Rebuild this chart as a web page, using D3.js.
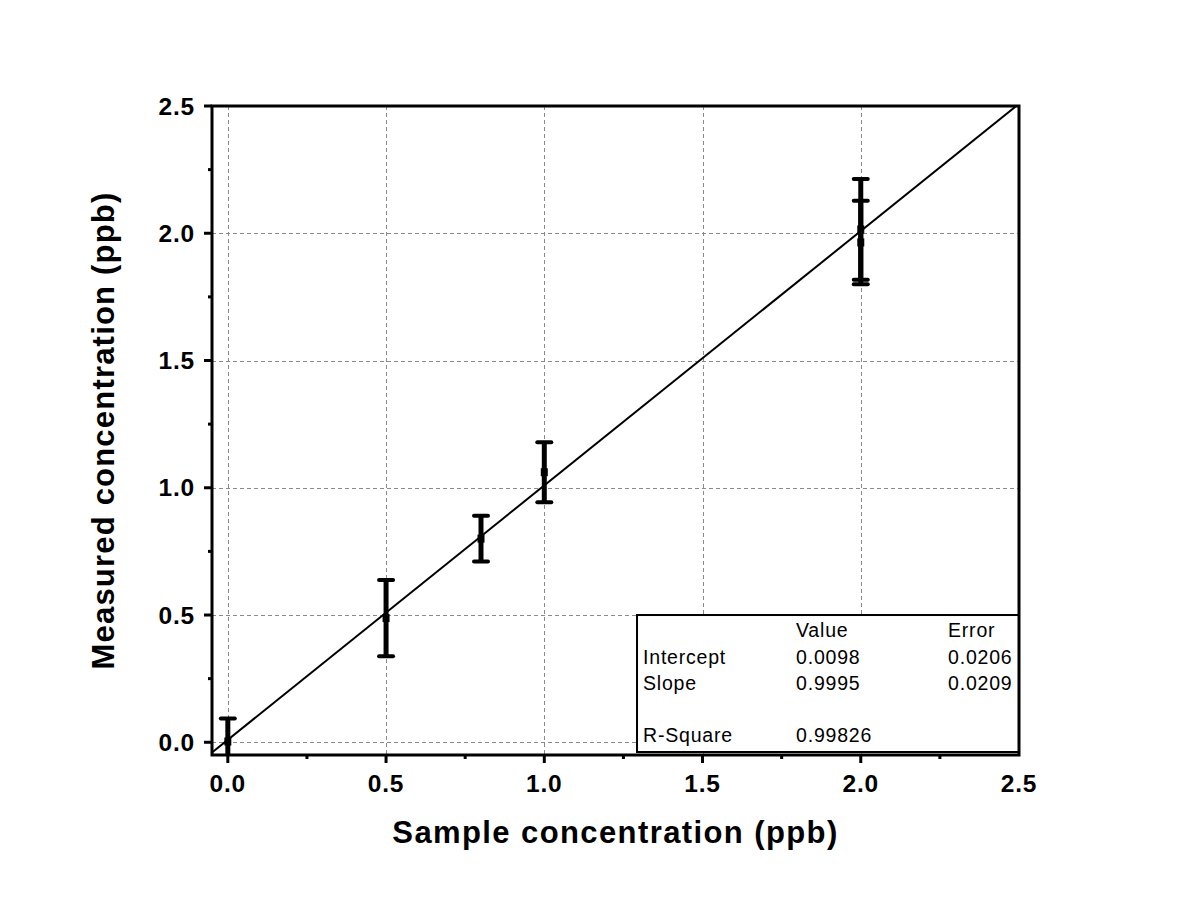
<!DOCTYPE html>
<html>
<head>
<meta charset="utf-8">
<script src="https://cdn.jsdelivr.net/npm/d3@7"></script>
<style>
  body { margin: 0; background: #fff; }
  svg { display: block; }
</style>
</head>
<body>
<div id="chart"></div>
<script>
// Data
const sampleConc = [0, 0.5, 0.8, 1.0, 2.0, 2.0];
const measuredConc = [0.003, 0.488, 0.80, 1.061, 2.015, 1.964];
const measuredErr = [0.09, 0.15, 0.09, 0.118, 0.198, 0.164];

const fitIntercept = 0.0098, fitSlope = 0.9995;
const majorTicks = [0, 0.5, 1.0, 1.5, 2.0, 2.5];
const minorTicks = [0.25, 0.75, 1.25, 1.75, 2.25];

const tableHeader = ["", "Value", "Error"];
const tableRows = [
  ["Intercept", "0.0098", "0.0206"],
  ["Slope", "0.9995", "0.0209"],
  ["", "", ""],
  ["R-Square", "0.99826", ""]
];

const width = 1183, height = 905;
const margin = {left: 212, right: 164, top: 106, bottom: 150};
const font = "'Liberation Sans', Arial, sans-serif";

const svg = d3.select("#chart").append("svg")
    .attr("width", width)
    .attr("height", height);

const x = d3.scaleLinear().domain([-0.05, 2.5]).range([margin.left, width - margin.right]);
const y = d3.scaleLinear().domain([-0.05, 2.5]).range([height - margin.bottom, margin.top]);

const x0 = x.range()[0], x1 = x.range()[1];
const yb = y.range()[0], yt = y.range()[1];

svg.append("defs").append("clipPath").attr("id", "plotclip")
  .append("rect").attr("x", x0).attr("y", yt).attr("width", x1 - x0).attr("height", yb - yt);

// Grid lines
const grid = svg.append("g").attr("stroke", "#8a8a8a").attr("stroke-width", 1).attr("stroke-dasharray", "4,3");
grid.selectAll(".gx").data(majorTicks.filter(d => d < 2.5)).enter().append("line")
    .attr("x1", d => Math.round(x(d)) + 0.5).attr("x2", d => Math.round(x(d)) + 0.5)
    .attr("y1", yt).attr("y2", yb);
grid.selectAll(".gy").data(majorTicks.filter(d => d < 2.5)).enter().append("line")
    .attr("y1", d => Math.round(y(d)) + 0.5).attr("y2", d => Math.round(y(d)) + 0.5)
    .attr("x1", x0).attr("x2", x1);

// Fit line
const plot = svg.append("g").attr("clip-path", "url(#plotclip)");
plot.append("line")
    .attr("x1", x(-0.05)).attr("y1", y(fitIntercept + fitSlope * -0.05))
    .attr("x2", x(2.5)).attr("y2", y(fitIntercept + fitSlope * 2.5))
    .attr("stroke", "#000").attr("stroke-width", 2);

// Error bars
const pts = sampleConc.map((d, i) => ({x: d, y: measuredConc[i], e: measuredErr[i]}));
const bars = plot.selectAll(".eb").data(pts).enter().append("g");
bars.append("line")
    .attr("x1", d => x(d.x)).attr("x2", d => x(d.x))
    .attr("y1", d => y(d.y - d.e)).attr("y2", d => y(d.y + d.e))
    .attr("stroke", "#000").attr("stroke-width", 5);
[-1, 1].forEach(s => {
  bars.append("line")
      .attr("x1", d => x(d.x) - 7).attr("x2", d => x(d.x) + 7)
      .attr("y1", d => y(d.y + s * d.e)).attr("y2", d => y(d.y + s * d.e))
      .attr("stroke", "#000").attr("stroke-width", 4).attr("stroke-linecap", "round");
});
bars.append("rect")
    .attr("x", d => x(d.x) - 3.5).attr("y", d => y(d.y) - 4)
    .attr("width", 7).attr("height", 8).attr("fill", "#000");

// Fit result table
const tbl = svg.append("g");
const tLeft = x(1.293), tTop = y(0.5);
tbl.append("rect")
    .attr("x", tLeft).attr("y", tTop)
    .attr("width", x1 - tLeft).attr("height", yb - 3 - tTop)
    .attr("fill", "#fff").attr("stroke", "#000").attr("stroke-width", 2);
const colX = [tLeft + 6, tLeft + 159, tLeft + 311];
const rowY = [tTop + 22, tTop + 49, tTop + 75, tTop + 101, tTop + 127];
[tableHeader].concat(tableRows).forEach((row, r) => {
  row.forEach((txt, c) => {
    if (!txt) return;
    tbl.append("text").attr("x", colX[c]).attr("y", rowY[r])
        .attr("font-family", font).attr("font-size", 19.5).attr("letter-spacing", 0.8).attr("fill", "#000")
        .text(txt);
  });
});

// Frame
svg.append("rect")
    .attr("x", x0).attr("y", yt).attr("width", x1 - x0).attr("height", yb - yt)
    .attr("fill", "none").attr("stroke", "#000").attr("stroke-width", 3);

// Ticks
const ax = svg.append("g").attr("stroke", "#000").attr("stroke-width", 3);
ax.selectAll(".mx").data(majorTicks.filter(d => d < 2.5)).enter().append("line")
    .attr("x1", d => x(d)).attr("x2", d => x(d)).attr("y1", yb).attr("y2", yb + 8);
ax.selectAll(".nx").data(minorTicks).enter().append("line")
    .attr("x1", d => x(d)).attr("x2", d => x(d)).attr("y1", yb).attr("y2", yb + 4);
ax.selectAll(".my").data(majorTicks).enter().append("line")
    .attr("y1", d => y(d)).attr("y2", d => y(d)).attr("x1", x0).attr("x2", x0 - 8);
ax.selectAll(".ny").data(minorTicks).enter().append("line")
    .attr("y1", d => y(d)).attr("y2", d => y(d)).attr("x1", x0).attr("x2", x0 - 4);

// Tick labels
svg.selectAll(".lx").data(majorTicks).enter().append("text")
    .attr("x", d => x(d)).attr("y", yb + 37)
    .attr("text-anchor", "middle")
    .attr("font-family", font).attr("font-weight", "bold").attr("font-size", 24.5).attr("letter-spacing", 0.8)
    .text(d => d3.format(".1f")(d));
svg.selectAll(".ly").data(majorTicks).enter().append("text")
    .attr("x", x0 - 17).attr("y", d => y(d) + 8.5)
    .attr("text-anchor", "end")
    .attr("font-family", font).attr("font-weight", "bold").attr("font-size", 24.5).attr("letter-spacing", 0.8)
    .text(d => d3.format(".1f")(d));

// Axis titles
svg.append("text")
    .attr("x", (x0 + x1) / 2).attr("y", 843)
    .attr("text-anchor", "middle")
    .attr("font-family", font).attr("font-weight", "bold").attr("font-size", 31).attr("letter-spacing", 1.4)
    .text("Sample concentration (ppb)");
svg.append("text")
    .attr("transform", `translate(114,${(yt + yb) / 2}) rotate(-90)`)
    .attr("text-anchor", "middle")
    .attr("font-family", font).attr("font-weight", "bold").attr("font-size", 31).attr("letter-spacing", 1.2)
    .text("Measured concentration (ppb)");
</script>
</body>
</html>
